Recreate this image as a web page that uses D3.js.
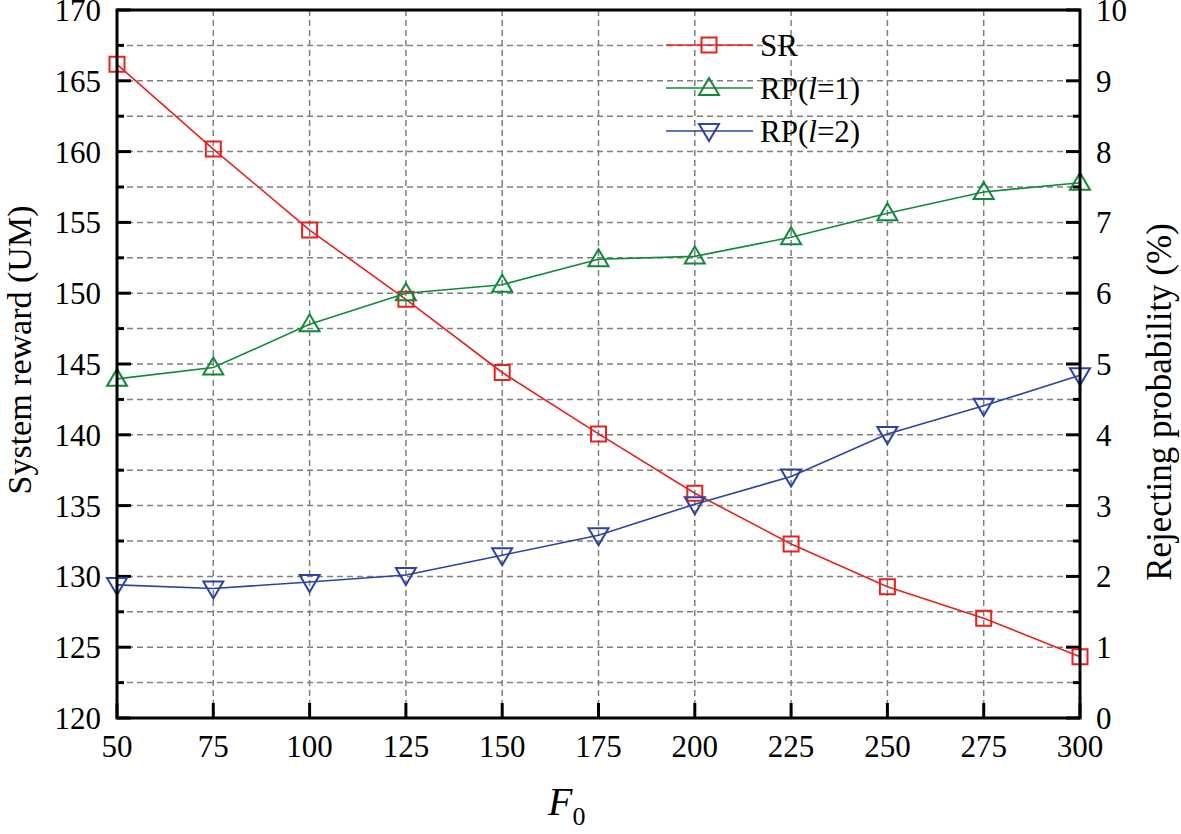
<!DOCTYPE html>
<html lang="en">
<head>
<meta charset="utf-8">
<title>System reward and rejecting probability vs F0</title>
<script src="https://d3js.org/d3.v7.min.js"></script>
<style>
    body { margin: 0; background: #fff; }
    svg text { font-family: "Liberation Serif", "Times New Roman", serif; fill: #000; }
    .grid line { stroke: #7f7f7f; stroke-width: 1.5; stroke-dasharray: 6 4; }
</style>
</head>
<body>
<div id="chart"></div>
<script>
    // x values (F0)
    const f0 = [50, 75, 100, 125, 150, 175, 200, 225, 250, 275, 300];
    // system reward (left axis, UM)
    const sr = [166.16, 160.18, 154.46, 149.57, 144.4, 140.06, 135.87, 132.29, 129.27, 127.04, 124.33];
    // rejecting probability (right axis, %)
    const rp1 = [4.79, 4.95, 5.56, 6.0, 6.12, 6.48, 6.52, 6.79, 7.13, 7.43, 7.56];
    const rp2 = [1.88, 1.83, 1.92, 2.02, 2.3, 2.58, 3.02, 3.41, 4.01, 4.41, 4.84];

    const xTicks = [50, 75, 100, 125, 150, 175, 200, 225, 250, 275, 300];
    const leftTicks = [120, 125, 130, 135, 140, 145, 150, 155, 160, 165, 170];
    const rightTicks = [0, 1, 2, 3, 4, 5, 6, 7, 8, 9, 10];

    const width = 1181, height = 834;
    const m = {left: 117, right: 1080, top: 10, bottom: 718};

    const svg = d3.select("#chart").append("svg")
        .attr("width", width)
        .attr("height", height);

    const x = d3.scaleLinear().domain([50, 300]).range([m.left, m.right]);
    const yL = d3.scaleLinear().domain([120, 170]).range([m.bottom, m.top]);
    const yR = d3.scaleLinear().domain([0, 10]).range([m.bottom, m.top]);

    // dashed grid: every x tick, every minor left tick
    const grid = svg.append("g").attr("class", "grid");
    grid.selectAll(".gx").data(xTicks.slice(1, -1)).enter().append("line")
        .attr("x1", d => x(d)).attr("x2", d => x(d))
        .attr("y1", m.top).attr("y2", m.bottom);
    const minorL = d3.range(122.5, 170, 2.5);
    grid.selectAll(".gy").data(minorL).enter().append("line")
        .attr("y1", d => yL(d)).attr("y2", d => yL(d))
        .attr("x1", m.left).attr("x2", m.right);

    // inward ticks, major + minor
    const allL = d3.range(120, 170.01, 2.5);
    svg.append("g").selectAll("line").data(allL).enter().append("line")
        .attr("x1", m.left).attr("x2", d => m.left + (d % 5 === 0 ? 14 : 7))
        .attr("y1", d => yL(d)).attr("y2", d => yL(d))
        .attr("stroke", "#000").attr("stroke-width", 3);

    const allR = d3.range(0, 10.01, 0.5);
    svg.append("g").selectAll("line").data(allR).enter().append("line")
        .attr("x1", m.right).attr("x2", d => m.right - (Math.abs(d % 1) < 1e-6 ? 14 : 7))
        .attr("y1", d => yR(d)).attr("y2", d => yR(d))
        .attr("stroke", "#000").attr("stroke-width", 3);

    svg.append("g").selectAll("line").data(xTicks).enter().append("line")
        .attr("x1", d => x(d)).attr("x2", d => x(d))
        .attr("y1", m.bottom).attr("y2", m.bottom - 15)
        .attr("stroke", "#000").attr("stroke-width", 3);

    // tick labels
    svg.append("g").selectAll("text").data(leftTicks).enter().append("text")
        .attr("x", 101).attr("y", d => yL(d) + 11)
        .attr("text-anchor", "end").style("font-size", "31px")
        .text(d => d);
    svg.append("g").selectAll("text").data(rightTicks).enter().append("text")
        .attr("x", 1096).attr("y", d => yR(d) + 11)
        .attr("text-anchor", "start").style("font-size", "31px")
        .text(d => d);
    svg.append("g").selectAll("text").data(xTicks).enter().append("text")
        .attr("x", d => x(d)).attr("y", 757)
        .attr("text-anchor", "middle").style("font-size", "31px")
        .text(d => d);

    // axis titles
    svg.append("text")
        .attr("transform", "translate(31,350) rotate(-90)")
        .attr("text-anchor", "middle").style("font-size", "34px")
        .text("System reward (UM)");
    svg.append("text")
        .attr("transform", "translate(1171,402) rotate(-90)")
        .attr("text-anchor", "middle").style("font-size", "35px")
        .text("Rejecting probability (%)");
    const xt = svg.append("text").attr("x", 548).attr("y", 815)
        .style("font-size", "40px");
    xt.append("tspan").style("font-style", "italic").text("F");
    xt.append("tspan").attr("dy", 10).style("font-size", "26px").text("0");

    // series
    const series = [
        {name: "SR", values: sr, y: yL, color: "#e5231c", marker: "square"},
        {name: "RP1", values: rp1, y: yR, color: "#108a3a", marker: "up"},
        {name: "RP2", values: rp2, y: yR, color: "#2c43a2", marker: "down"}
    ];

    function markerPath(type) {
        if (type === "square") return "M-7.5,-7.5H7.5V7.5H-7.5Z";
        if (type === "up") return "M0,-10L10,7L-10,7Z";
        return "M0,10L10,-7L-10,-7Z";
    }

    series.forEach(s => {
        const line = d3.line().x((d, i) => x(f0[i])).y(d => s.y(d));
        svg.append("path").datum(s.values)
            .attr("d", line).attr("fill", "none")
            .attr("stroke", s.color).attr("stroke-width", 1.6);
        svg.append("g").selectAll("path").data(s.values).enter().append("path")
            .attr("transform", (d, i) => `translate(${x(f0[i])},${s.y(d)})`)
            .attr("d", markerPath(s.marker))
            .attr("fill", "none").attr("stroke", s.color).attr("stroke-width", 2);
    });

    // frame
    svg.append("rect")
        .attr("x", m.left).attr("y", m.top)
        .attr("width", m.right - m.left).attr("height", m.bottom - m.top)
        .attr("fill", "none").attr("stroke", "#000").attr("stroke-width", 3);

    // legend
    const legend = [
        {label: "SR", color: "#e5231c", marker: "square"},
        {label: "RP(l=1)", l: "1", color: "#108a3a", marker: "up"},
        {label: "RP(l=2)", l: "2", color: "#2c43a2", marker: "down"}
    ];
    const lg = svg.append("g");
    legend.forEach((d, i) => {
        const yy = 45 + i * 43;
        lg.append("line").attr("x1", 666).attr("x2", 753)
            .attr("y1", yy).attr("y2", yy)
            .attr("stroke", d.color).attr("stroke-width", 1.6);
        lg.append("path").attr("transform", `translate(709,${yy})`)
            .attr("d", markerPath(d.marker))
            .attr("fill", "none").attr("stroke", d.color).attr("stroke-width", 2);
        const t = lg.append("text").attr("x", 760).attr("y", yy + 11)
            .style("font-size", "31px");
        if (d.l) {
            t.append("tspan").text("RP(");
            t.append("tspan").style("font-style", "italic").text("l");
            t.append("tspan").text("=" + d.l + ")");
        } else {
            t.text(d.label);
        }
    });
</script>
</body>
</html>
